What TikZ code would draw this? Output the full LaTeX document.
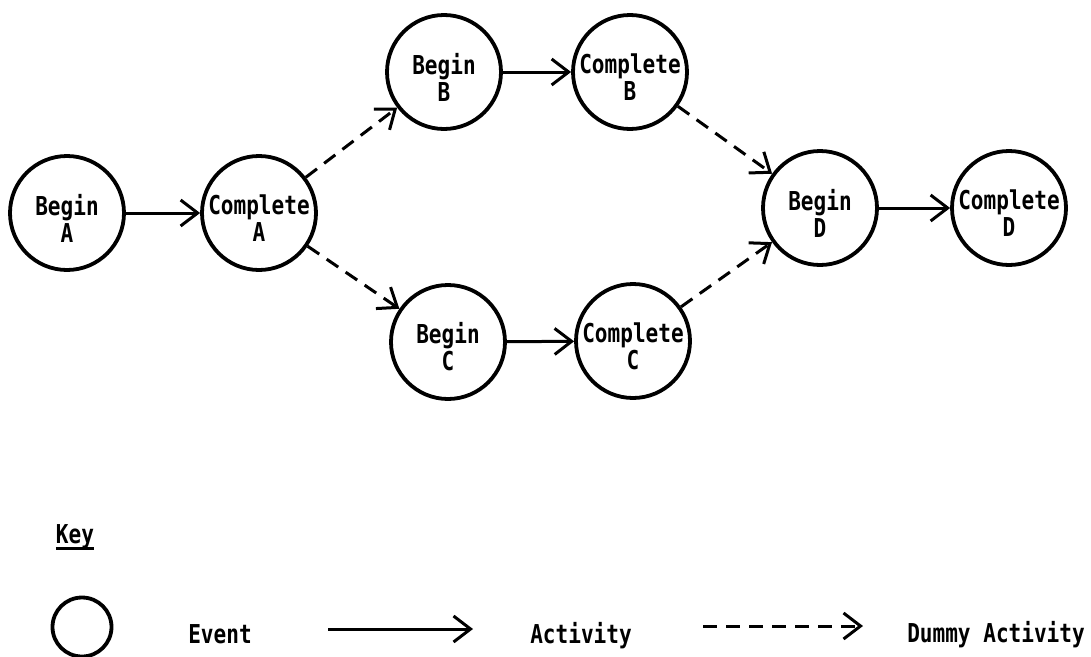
\documentclass[tikz,border=0pt]{standalone}
\usepackage{fontspec}
\newfontfamily\diagfont[FakeStretch=0.81]{DejaVu Sans Mono}
\usetikzlibrary{arrows.meta}
\tikzset{
  event/.style={circle, draw, line width=3.8pt, minimum size=114pt, inner sep=0pt},
  lbl/.style={font=\diagfont\bfseries\fontsize{26}{27}\selectfont, align=center, inner sep=0pt},
  act/.style={line width=3pt, -{Straight Barb[length=17pt,width=26pt]}},
  dummy/.style={act, dash pattern=on 14pt off 9pt},
}
\begin{document}
\begin{tikzpicture}[x=1pt,y=-1pt]
\useasboundingbox (0,0) rectangle (1091,656);
% events
\node[event, label={[lbl, yshift=-5pt]center:Begin\\A}] (bA) at (67,213) {};
\node[event, label={[lbl, yshift=-5pt]center:Complete\\A}] (cA) at (259,213) {};
\node[event, label={[lbl, yshift=-5pt]center:Begin\\B}] (bB) at (444,72) {};
\node[event, label={[lbl, yshift=-5pt]center:Complete\\B}] (cB) at (630,72) {};
\node[event, label={[lbl, yshift=-5pt]center:Begin\\C}] (bC) at (448,342) {};
\node[event, label={[lbl, yshift=-5pt]center:Complete\\C}] (cC) at (633,341) {};
\node[event, label={[lbl, yshift=-5pt]center:Begin\\D}] (bD) at (820,208) {};
\node[event, label={[lbl, yshift=-5pt]center:Complete\\D}] (cD) at (1009,208) {};
% activities
\draw[act] (bA) -- (cA);
\draw[act] (bB) -- (cB);
\draw[act] (bC) -- (cC);
\draw[act] (bD) -- (cD);
% dummy activities
\draw[dummy] (cA) -- (bB);
\draw[dummy] (cA) -- (bC);
\draw[dummy] (cB) -- (bD);
\draw[dummy] (cC) -- (bD);
% key
\node[lbl, anchor=base] (key) at (75,543) {Key};
\draw[line width=3pt] (key.south west) -- (key.south east);
\node[circle, draw, line width=3.8pt, minimum size=59pt, inner sep=0pt] (kev) at (82,627) {};
\node[lbl, anchor=base] (kevt) at (220,643) {Event};
\coordinate (a1) at (328,629);
\coordinate (a2) at (473,629);
\draw[act] (a1) -- (a2);
\node[lbl, anchor=base] (kact) at (581,643) {Activity};
\coordinate (d1) at (703,626);
\coordinate (d2) at (863,626);
\draw[dummy] (d1) -- (d2);
\node[lbl, anchor=base] (kdum) at (996,642) {Dummy Activity};
\end{tikzpicture}
\end{document}
